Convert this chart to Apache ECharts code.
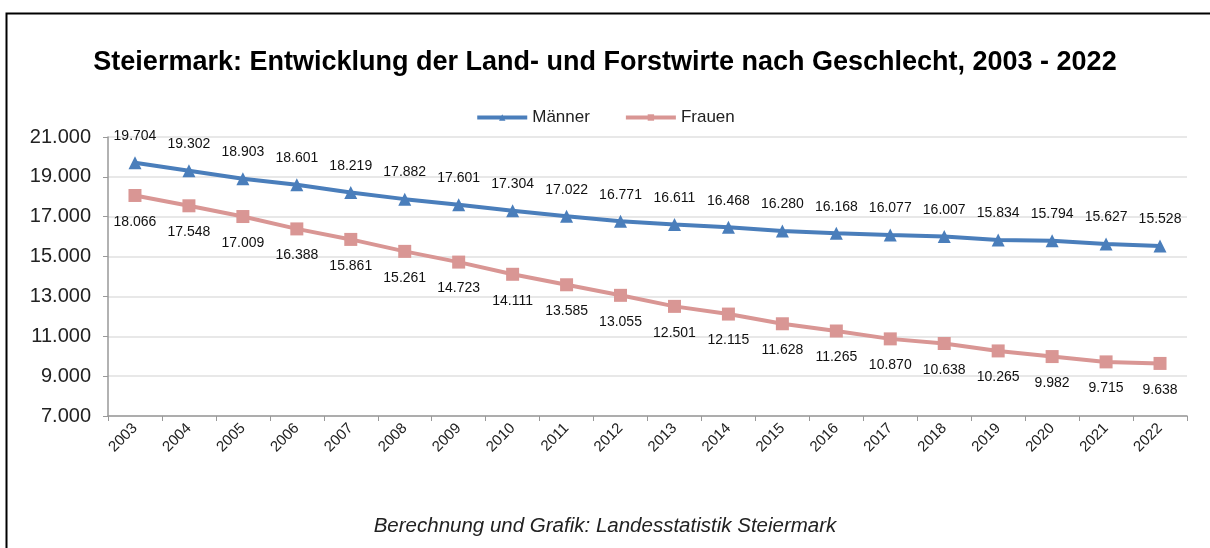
<!DOCTYPE html>
<html>
<head>
<meta charset="utf-8">
<script src="https://cdn.jsdelivr.net/npm/echarts@6/dist/echarts.min.js"></script>
<style>
  html, body { margin: 0; padding: 0; background: #fff; }
  #chart { width: 1210px; height: 548px; }
</style>
</head>
<body>
<div id="chart"></div>
<script>
var years = ['2003', '2004', '2005', '2006', '2007', '2008', '2009', '2010', '2011', '2012',
    '2013', '2014', '2015', '2016', '2017', '2018', '2019', '2020', '2021', '2022'];
var maenner = [19704, 19302, 18903, 18601, 18219, 17882, 17601, 17304, 17022, 16771,
    16611, 16468, 16280, 16168, 16077, 16007, 15834, 15794, 15627, 15528];
var frauen = [18066, 17548, 17009, 16388, 15861, 15261, 14723, 14111, 13585, 13055,
    12501, 12115, 11628, 11265, 10870, 10638, 10265, 9982, 9715, 9638];

// Tausender mit Punkt
function fmt(v) {
    return String(v).replace(/\B(?=(\d{3})+(?!\d))/g, '.');
}

var myChart = echarts.init(document.getElementById('chart'));
var font = 'Liberation Sans, Arial, sans-serif';

var option = {
    animation: false,
    backgroundColor: '#fff',
    textStyle: { fontFamily: font },
    graphic: [{
        type: 'polyline',
        shape: { points: [[6.5, 560], [6.5, 13.5], [1215, 13.5]] },
        style: { stroke: '#000', lineWidth: 2, fill: null }
    }, {
        type: 'text',
        left: 'center',
        top: 516,
        style: {
            text: 'Berechnung und Grafik: Landesstatistik Steiermark',
            font: 'italic 20.5px ' + font,
            fill: '#222'
        }
    }],
    title: {
        text: 'Steiermark: Entwicklung der Land- und Forstwirte nach Geschlecht, 2003 - 2022',
        left: 'center',
        top: 44,
        textStyle: { fontSize: 27, fontWeight: 'bold', color: '#000', fontFamily: font }
    },
    legend: {
        top: 104,
        left: 'center',
        itemGap: 34,
        itemWidth: 50,
        itemHeight: 8,
        lineStyle: { width: 4 },
        textStyle: { fontSize: 17, color: '#222', fontFamily: font },
        data: ['Männer', 'Frauen']
    },
    grid: { left: 108, right: 23, top: 137, bottom: 132 },
    xAxis: {
        type: 'category',
        data: years,
        boundaryGap: true,
        axisLine: { lineStyle: { color: '#999', width: 1.5 } },
        axisTick: { show: true, length: 5, lineStyle: { color: '#999' } },
        axisLabel: { rotate: 45, fontSize: 15, color: '#222', margin: 10 }
    },
    yAxis: {
        type: 'value',
        min: 7000,
        max: 21000,
        interval: 2000,
        axisLine: { show: true, lineStyle: { color: '#999', width: 1.5 } },
        axisTick: { show: true, length: 5, lineStyle: { color: '#999' } },
        splitLine: { lineStyle: { color: '#e0e0e0', width: 1.5 } },
        axisLabel: {
            fontSize: 20, color: '#222', margin: 17,
            formatter: function (v) { return fmt(v); }
        }
    },
    series: [{
        name: 'Männer',
        type: 'line',
        data: maenner,
        symbol: 'triangle',
        symbolSize: 13,
        lineStyle: { color: '#4a7ebb', width: 4 },
        itemStyle: { color: '#4a7ebb' },
        label: {
            show: true, position: 'top', distance: 13,
            fontSize: 14, color: '#111',
            formatter: function (p) { return fmt(p.value); }
        }
    }, {
        name: 'Frauen',
        type: 'line',
        data: frauen,
        symbol: 'rect',
        symbolSize: 13,
        lineStyle: { color: '#d99694', width: 4 },
        itemStyle: { color: '#d99694' },
        label: {
            show: true, position: 'bottom', distance: 13,
            fontSize: 14, color: '#111',
            formatter: function (p) { return fmt(p.value); }
        }
    }]
};
myChart.setOption(option);
</script>
</body>
</html>
